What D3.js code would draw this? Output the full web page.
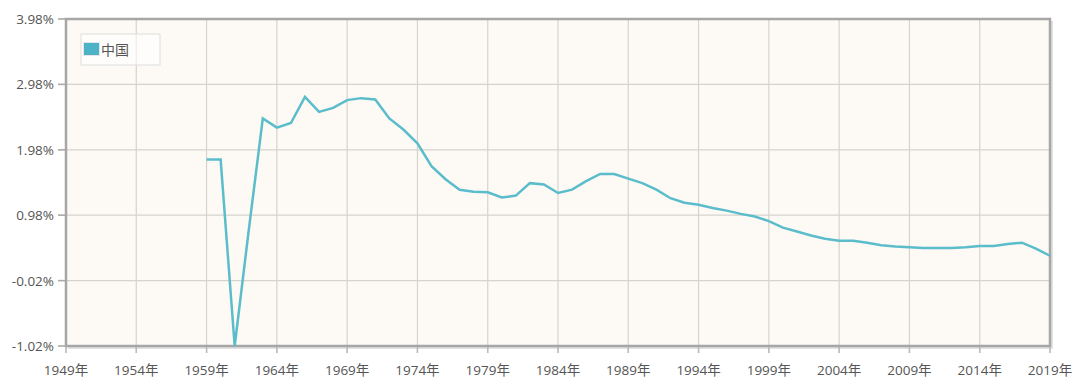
<!DOCTYPE html>
<html>
<head>
<meta charset="utf-8">
<script src="https://cdn.jsdelivr.net/npm/d3@7"></script>
<style>
body{margin:0;background:#fff;}
svg{display:block;}
text{font-family:"Open Sans","Noto Sans CJK SC",sans-serif;}
</style>
</head>
<body>
<svg id="c" width="1080" height="390"></svg>
<script>
const years = d3.range(1959, 2020);
const values = [1.83,1.83,-1.02,0.75,2.46,2.32,2.39,2.79,2.56,2.62,2.74,2.77,2.75,2.46,2.29,2.08,
1.73,1.53,1.37,1.34,1.33,1.25,1.28,1.47,1.45,1.32,1.37,1.50,1.61,1.61,1.54,1.47,1.37,1.24,1.17,1.14,
1.09,1.05,1.00,0.96,0.89,0.79,0.73,0.67,0.62,0.59,0.59,0.56,0.52,0.50,0.49,0.48,0.48,0.48,0.49,0.51,
0.51,0.54,0.56,0.47,0.36];
const xTicks = [1949,1954,1959,1964,1969,1974,1979,1984,1989,1994,1999,2004,2009,2014,2019];
const yTicks = [-1.02,-0.02,0.98,1.98,2.98,3.98];
const seriesName = "中国";

const svg = d3.select("#c");
const L=66, R=1050, T=19, B=346;
const x = d3.scaleLinear().domain([1949,2019]).range([L,R]);
const y = d3.scaleLinear().domain([-1.02,3.98]).range([B,T]);

// shadow
svg.append("rect").attr("x",L+2).attr("y",T+2).attr("width",R-L+1).attr("height",B-T+1)
  .attr("fill","#e2e2e2");
svg.append("rect").attr("x",L).attr("y",T).attr("width",R-L).attr("height",B-T)
  .attr("fill","#fdfaf5");

// grid
svg.append("g").selectAll("line").data(xTicks).join("line")
  .attr("x1",d=>x(d)).attr("x2",d=>x(d)).attr("y1",T).attr("y2",B+7)
  .attr("stroke","#d6d3cf").attr("stroke-width",1.2);
svg.append("g").selectAll("line").data(yTicks).join("line")
  .attr("x1",L-8).attr("x2",R).attr("y1",d=>y(d)).attr("y2",d=>y(d))
  .attr("stroke","#d6d3cf").attr("stroke-width",1.2);

// tick marks
svg.append("g").selectAll("line").data(yTicks).join("line")
  .attr("x1",L-8).attr("x2",L).attr("y1",d=>y(d)).attr("y2",d=>y(d))
  .attr("stroke","#aaa").attr("stroke-width",1.5);
svg.append("g").selectAll("line").data(xTicks).join("line")
  .attr("x1",d=>x(d)).attr("x2",d=>x(d)).attr("y1",B).attr("y2",B+7)
  .attr("stroke","#bbb").attr("stroke-width",1.5);

// frame
svg.append("rect").attr("x",L).attr("y",T).attr("width",R-L).attr("height",B-T)
  .attr("fill","none").attr("stroke","#a6a6a6").attr("stroke-width",2.5);

// labels
svg.append("g").selectAll("text").data(yTicks).join("text")
  .attr("x",L-12).attr("y",d=>y(d)+5).attr("text-anchor","end")
  .attr("font-size",13.5).attr("fill","#555")
  .text(d=>d.toFixed(2)+"%");
svg.append("g").selectAll("text").data(xTicks).join("text")
  .attr("x",d=>x(d)).attr("y",375).attr("text-anchor","middle")
  .attr("font-size",13.5).attr("fill","#555")
  .text(d=>d+"年");

// line
const line = d3.line().x((d,i)=>x(years[i])).y(d=>y(d));
svg.append("path").datum(values).attr("d",line)
  .attr("fill","none").attr("stroke","#5bbccb").attr("stroke-width",2.5)
  .attr("stroke-linejoin","miter");

// legend
const lg = svg.append("g");
lg.append("rect").attr("x",81).attr("y",34).attr("width",79).attr("height",31)
  .attr("fill","#fff").attr("fill-opacity",0.6).attr("stroke","#ddd").attr("stroke-width",1);
lg.append("rect").attr("x",83.5).attr("y",42.5).attr("width",16).attr("height",13)
  .attr("fill","#4cb2c6").attr("stroke","#e6e6e6").attr("stroke-width",1);
lg.append("text").attr("x",101).attr("y",54.5).attr("font-size",14).attr("fill","#555")
  .attr("font-family","Noto Sans CJK SC").text(seriesName);
</script>
</body>
</html>
